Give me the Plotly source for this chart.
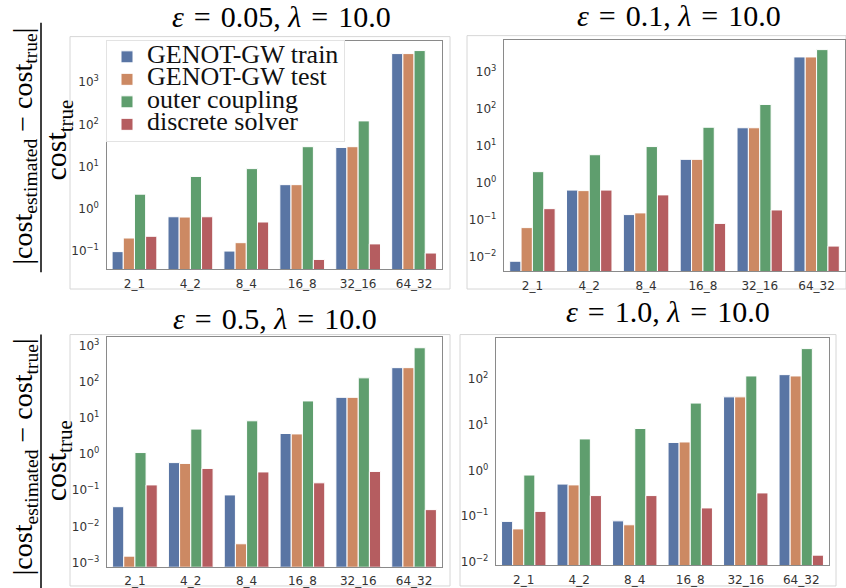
import plotly.graph_objects as go

W, H = 846, 588

categories = ["2_1", "4_2", "8_4", "16_8", "32_16", "64_32"]
series_names = ["GENOT-GW train", "GENOT-GW test", "outer coupling", "discrete solver"]
colors = ["#5975a4", "#cc8963", "#5f9e6e", "#b55d60"]

EQ = "\u2004=\u2004"
titles = ["<i>ε</i>%s0.05, <i>λ</i>%s10.0" % (EQ, EQ), "<i>ε</i>%s0.1, <i>λ</i>%s10.0" % (EQ, EQ),
          "<i>ε</i>%s0.5, <i>λ</i>%s10.0" % (EQ, EQ), "<i>ε</i>%s1.0, <i>λ</i>%s10.0" % (EQ, EQ)]

# panel 1: eps = 0.05
p1_train = [0.095, 0.64, 0.098, 3.7, 28.3, 4800]
p1_test = [0.20, 0.63, 0.155, 3.7, 29.5, 4800]
p1_outer = [2.2, 5.8, 8.9, 29.5, 121, 5660]
p1_discrete = [0.22, 0.64, 0.48, 0.062, 0.145, 0.088]

# panel 2: eps = 0.1
p2_train = [0.0074, 0.62, 0.135, 4.2, 30, 2460]
p2_test = [0.060, 0.60, 0.15, 4.2, 30, 2460]
p2_outer = [1.95, 5.6, 9.3, 31, 128, 3880]
p2_discrete = [0.195, 0.62, 0.46, 0.078, 0.18, 0.019]

# panel 3: eps = 0.5
p3_train = [0.035, 0.58, 0.074, 3.7, 37, 245]
p3_test = [0.0015, 0.55, 0.0033, 3.6, 37, 245]
p3_outer = [1.1, 4.9, 8.3, 29.4, 128, 870]
p3_discrete = [0.14, 0.40, 0.32, 0.16, 0.33, 0.029]

# panel 4: eps = 1.0
p4_train = [0.076, 0.50, 0.078, 4.1, 41, 126]
p4_test = [0.052, 0.48, 0.064, 4.2, 41, 118]
p4_outer = [0.79, 4.9, 8.3, 30, 118, 470]
p4_discrete = [0.126, 0.28, 0.28, 0.15, 0.32, 0.0138]

panels = [
    [p1_train, p1_test, p1_outer, p1_discrete],
    [p2_train, p2_test, p2_outer, p2_discrete],
    [p3_train, p3_test, p3_outer, p3_discrete],
    [p4_train, p4_test, p4_outer, p4_discrete],
]

# layout in pixels: (x0, x1, ytop, ybottom)
domains_px = [(106.5, 442, 41, 272), (504, 845, 40, 274),
              (107, 442, 340, 572.7), (496, 829, 341.7, 571)]
yranges = [(-1.44, 3.99), (-2.40, 3.86), (-3.12, 3.25), (-2.08, 2.9)]
ytick_exps = [range(-1, 4), range(-2, 4), range(-3, 4), range(-2, 3)]
outer_boxes = [(70, 37, 450, 292), (467, 36, 846, 292), (70, 338, 450, 592), (460, 338, 836, 592)]
title_pos = [(281, 17), (679, 16), (275, 322), (668, 315)]

SERIF = "Liberation Serif"
SANS = "DejaVu Sans"

fig = go.Figure()
for i, series in enumerate(panels):
    ax = "" if i == 0 else str(i + 1)
    for j, vals in enumerate(series):
        fig.add_trace(go.Bar(
            x=categories, y=vals, name='<span style="font-size:26px">%s</span>' % series_names[j],
            marker=dict(color=colors[j], line=dict(color="white", width=1)),
            xaxis="x" + ax, yaxis="y" + ax,
            legendgroup=series_names[j], showlegend=(i == 0),
        ))

def fx(px):
    return px / W

def fy(py):
    return 1 - py / H

layout = dict(
    width=W, height=H, margin=dict(l=0, r=0, t=0, b=0),
    paper_bgcolor="white", plot_bgcolor="white",
    barmode="group", bargap=0.2, bargroupgap=0,
    showlegend=True,
    legend=dict(x=fx(106), y=fy(40), xanchor="left", yanchor="top",
                font=dict(family=SERIF, size=15, color="#111"),
                bgcolor="rgba(255,255,255,0.8)", bordercolor="#e3e3e3", borderwidth=1,
                tracegroupgap=0, itemwidth=30),
)
for i in range(4):
    x0, x1, yt, yb = domains_px[i]
    ax = "" if i == 0 else str(i + 1)
    exps = list(ytick_exps[i])
    layout["xaxis" + ax] = dict(
        domain=[fx(x0), fx(x1)], anchor="y" + ax, type="category",
        showline=True, mirror=True, linecolor="#8a8a8a", linewidth=1.3,
        showgrid=False, ticks="", ticklabelstandoff=3,
        tickfont=dict(family=SANS, size=12, color="#333"),
    )
    layout["yaxis" + ax] = dict(
        domain=[fy(yb), fy(yt)], anchor="x" + ax, type="log",
        range=list(yranges[i]),
        tickvals=[10 ** e for e in exps],
        ticktext=["10<sup>%s</sup>" % (str(e).replace("-", "\u2212")) for e in exps],
        showline=True, mirror=True, linecolor="#8a8a8a", linewidth=1.3,
        showgrid=False, ticks="", ticklabelstandoff=4, zeroline=False,
        tickfont=dict(family=SANS, size=12, color="#333"),
    )
fig.update_layout(**layout)

shapes = []
for (bx0, by0, bx1, by1) in outer_boxes:
    shapes.append(dict(type="rect", xref="paper", yref="paper",
                       x0=fx(bx0), x1=fx(bx1), y0=fy(by1), y1=fy(by0),
                       line=dict(color="#d6d6d6", width=1), layer="below"))
# fraction bars of the y labels
for (ly0, ly1) in [(23, 275), (338, 600)]:
    shapes.append(dict(type="line", xref="paper", yref="paper",
                       x0=fx(41), x1=fx(41), y0=fy(ly1), y1=fy(ly0),
                       line=dict(color="black", width=1.5)))
fig.update_layout(shapes=shapes)

annotations = []
for i, (tx, ty) in enumerate(title_pos):
    annotations.append(dict(text=titles[i], x=fx(tx), y=fy(ty), xref="paper", yref="paper",
                            xanchor="center", yanchor="middle", showarrow=False,
                            font=dict(family=SERIF, size=30, color="black")))
num = "|cost<sub>estimated</sub> \u2212 cost<sub>true</sub>|"
den = "cost<sub>true</sub>"
for (ncy, dcy) in [(148, 142), (462, 466)]:
    annotations.append(dict(text=num, x=fx(24), y=fy(ncy), xref="paper", yref="paper",
                            xanchor="center", yanchor="middle", showarrow=False, textangle=-90,
                            font=dict(family=SERIF, size=28, color="black")))
    annotations.append(dict(text=den, x=fx(58), y=fy(dcy), xref="paper", yref="paper",
                            xanchor="center", yanchor="middle", showarrow=False, textangle=-90,
                            font=dict(family=SERIF, size=30, color="black")))
fig.update_layout(annotations=annotations)

fig.write_html("out.html")
